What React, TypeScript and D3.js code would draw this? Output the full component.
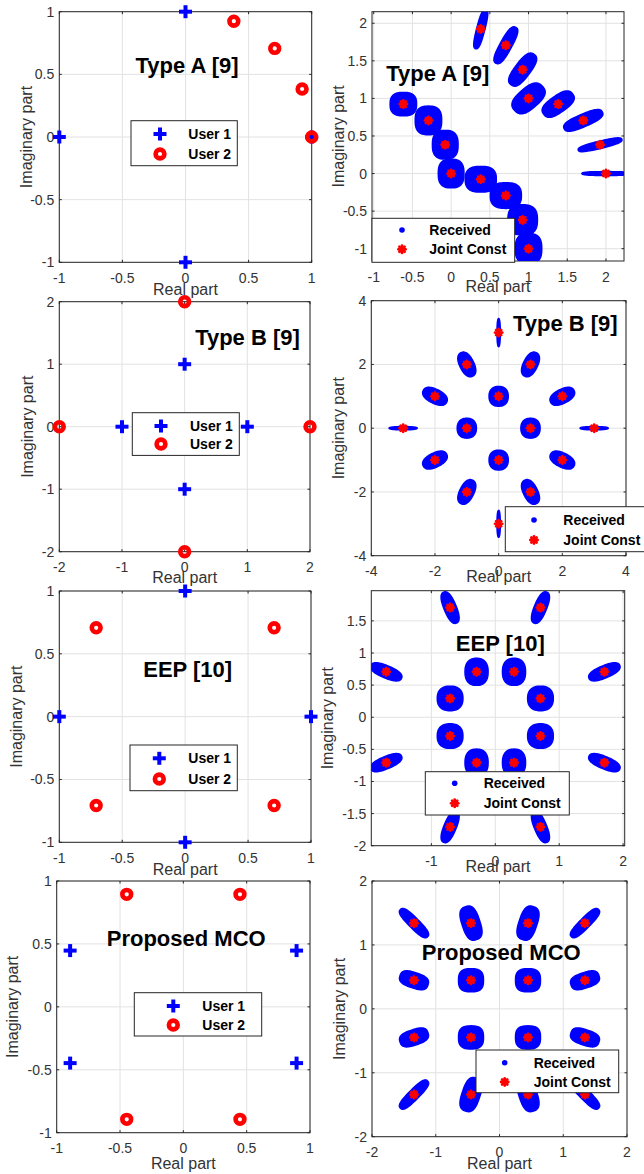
import React from 'react';
import * as d3 from 'd3';

type Pt = [number, number];

// ---------- data ----------
const titles = ['Type A [9]', 'Type B [9]', 'EEP [10]', 'Proposed MCO'];
const userLegend = ['User 1', 'User 2'];
const rxLegend = ['Received', 'Joint Const'];
const xLabel = 'Real part';
const yLabel = 'Imaginary part';

const typeAUser1: Pt[] = [[0, 1], [-1, 0], [0, -1], [1, 0]];
const typeAUser2: Pt[] = [[1, 0], [0.924, 0.383], [0.707, 0.707], [0.383, 0.924]];
const typeBUser1: Pt[] = [[1, 0], [0, 1], [-1, 0], [0, -1]];
const typeBUser2: Pt[] = [[2, 0], [0, 2], [-2, 0], [0, -2]];
const eepUser1: Pt[] = [[1, 0], [0, 1], [-1, 0], [0, -1]];
const eepUser2: Pt[] = [[0.707, 0.707], [-0.707, 0.707], [-0.707, -0.707], [0.707, -0.707]];
const mcoUser1: Pt[] = [[0.894, 0.447], [-0.894, 0.447], [-0.894, -0.447], [0.894, -0.447]];
const mcoUser2: Pt[] = [[0.447, 0.894], [-0.447, 0.894], [-0.447, -0.894], [0.447, -0.894]];

// joint constellation points and spread of received clouds [along, across, angle deg]
const typeAJoint: Pt[] = [[2, 0], [1.924, 0.383], [1.707, 0.707], [1.383, 0.924], [1, 1], [0.924, 1.383], [0.707, 1.707], [0.383, 1.924],
  [0, 0], [-0.076, 0.383], [-0.293, 0.707], [-0.617, 0.924], [1, -1], [0.924, -0.617], [0.707, -0.293], [0.383, -0.076]];
const typeASpread = [[0.31, 0.025, 0], [0.29, 0.048, 14], [0.27, 0.082, 24], [0.23, 0.11, 36], [0.24, 0.135, 42], [0.25, 0.1, 54], [0.27, 0.075, 62], [0.27, 0.052, 76],
  [0.165, 0.19, 0], [0.165, 0.19, 0], [0.17, 0.19, 0], [0.17, 0.155, 0], [0.17, 0.2, 0], [0.19, 0.2, 0], [0.2, 0.17, 0], [0.2, 0.17, 0]];

const typeBJoint: Pt[] = [[3, 0], [-3, 0], [0, 3], [0, -3], [1, 0], [-1, 0], [0, 1], [0, -1],
  [1, 2], [-1, 2], [1, -2], [-1, -2], [2, 1], [-2, 1], [2, -1], [-2, -1]];
const typeBSpread = [[0.44, 0.05, 0], [0.44, 0.05, 0], [0.44, 0.05, 90], [0.42, 0.05, 90], [0.31, 0.3, 90], [0.31, 0.3, 90], [0.31, 0.3, 90], [0.31, 0.3, 90],
  [0.41, 0.22, 63.4], [0.41, 0.22, 116.6], [0.41, 0.22, -63.4], [0.41, 0.22, -116.6], [0.41, 0.22, 26.6], [0.41, 0.22, 153.4], [0.41, 0.22, -26.6], [0.41, 0.22, -153.4]];

const eepJoint: Pt[] = [[0.707, 1.707], [-0.707, 1.707], [0.707, -1.707], [-0.707, -1.707], [1.707, 0.707], [-1.707, 0.707], [1.707, -0.707], [-1.707, -0.707],
  [0.293, 0.707], [-0.293, 0.707], [0.293, -0.707], [-0.293, -0.707], [0.707, 0.293], [-0.707, 0.293], [0.707, -0.293], [-0.707, -0.293]];
const eepSpread = [[0.26, 0.095, 67.5], [0.26, 0.095, 112.5], [0.26, 0.095, -67.5], [0.26, 0.095, -112.5], [0.26, 0.095, 22.5], [0.26, 0.095, 157.5], [0.26, 0.095, -22.5], [0.26, 0.095, -157.5],
  [0.21, 0.18, 90], [0.21, 0.18, 90], [0.21, 0.18, 90], [0.21, 0.18, 90], [0.2, 0.19, 0], [0.2, 0.19, 0], [0.2, 0.19, 0], [0.2, 0.19, 0]];

const mcoJoint: Pt[] = [[1.341, 1.341], [-1.341, 1.341], [1.341, -1.341], [-1.341, -1.341], [0.447, 1.341], [-0.447, 1.341], [0.447, -1.341], [-0.447, -1.341],
  [1.341, 0.447], [-1.341, 0.447], [1.341, -0.447], [-1.341, -0.447], [0.447, 0.447], [-0.447, 0.447], [0.447, -0.447], [-0.447, -0.447]];
const mcoSpread = [[0.3, 0.08, 45], [0.3, 0.08, 135], [0.3, 0.08, -45], [0.3, 0.08, -135], [0.27, 0.14, 71.6], [0.27, 0.14, 108.4], [0.27, 0.14, -71.6], [0.27, 0.14, -108.4],
  [0.23, 0.12, 18.4], [0.23, 0.12, 161.6], [0.23, 0.12, -18.4], [0.23, 0.12, -161.6], [0.195, 0.18, 0], [0.195, 0.18, 0], [0.195, 0.18, 0], [0.195, 0.18, 0]];

const ticksUnit = [-1, -0.5, 0, 0.5, 1];
const ticksTwo = [-2, -1, 0, 1, 2];
const ticksFour = [-4, -2, 0, 2, 4];
const ticksTypeA = [-1, -0.5, 0, 0.5, 1, 1.5, 2];
const ticksEepX = [-1, 0, 1, 2];
const ticksEepY = [-2, -1.5, -1, -0.5, 0, 0.5, 1, 1.5];

// ---------- layout ----------
const FONT = '"Liberation Sans", Arial, Helvetica, sans-serif';
const AX = '#262626';
const GRID = '#e2e2e2';
const BLUE = '#0000ff';
const RED = '#ff0000';

interface Panel {
  id: string;
  kind: 'users' | 'rx';
  box: { l: number; r: number; t: number; b: number };
  xDom: [number, number]; yDom: [number, number];
  xTicks: number[]; yTicks: number[];
  xLabDy: number; yLabX: number;
  title: { text: string; x: number; y: number };
  leg: { l: number; t: number; w: number; h: number; mx: number; tx: number; r1: number; r2: number };
  u1?: Pt[]; u2?: Pt[];
  joint?: Pt[]; spread?: number[][]; n?: number;
}

const panels: Panel[] = [
  { id: 'p1', kind: 'users', box: { l: 59.3, r: 311.7, t: 11.7, b: 262.3 }, xDom: [-1, 1], yDom: [-1, 1], xTicks: ticksUnit, yTicks: ticksUnit,
    xLabDy: 32.5, yLabX: 27.5, title: { text: titles[0], x: 187, y: 73 },
    leg: { l: 131, t: 120.7, w: 106.3, h: 45, mx: 29, tx: 57.3, r1: 13.3, r2: 33.3 }, u1: typeAUser1, u2: typeAUser2 },
  { id: 'p2', kind: 'rx', box: { l: 372, r: 624, t: 11.7, b: 261 }, xDom: [-1.022, 2.233], yDom: [-1.164, 2.154], xTicks: ticksTypeA, yTicks: ticksTypeA,
    xLabDy: 31, yLabX: 340.3, title: { text: titles[0], x: 437.8, y: 80.7 },
    leg: { l: 372, t: 218.3, w: 142.7, h: 44, mx: 30, tx: 57.3, r1: 11.7, r2: 31 }, joint: typeAJoint, spread: typeASpread, n: 2.7 },
  { id: 'p3', kind: 'users', box: { l: 59.3, r: 310, t: 301.7, b: 551.7 }, xDom: [-2, 2], yDom: [-2, 2], xTicks: ticksTwo, yTicks: ticksTwo,
    xLabDy: 31.5, yLabX: 29, title: { text: titles[1], x: 247.5, y: 345.3 },
    leg: { l: 132.3, t: 412.7, w: 107, h: 42.7, mx: 28.7, tx: 57.7, r1: 13.3, r2: 31.3 }, u1: typeBUser1, u2: typeBUser2 },
  { id: 'p4', kind: 'rx', box: { l: 371.3, r: 626, t: 300.7, b: 555.7 }, xDom: [-4, 4], yDom: [-4, 4], xTicks: ticksFour, yTicks: ticksFour,
    xLabDy: 26, yLabX: 340.3, title: { text: titles[1], x: 565.3, y: 331 },
    leg: { l: 505.3, t: 506.7, w: 142.7, h: 45, mx: 28.7, tx: 58, r1: 13.3, r2: 33.3 }, joint: typeBJoint, spread: typeBSpread, n: 2.3 },
  { id: 'p5', kind: 'users', box: { l: 59.3, r: 311, t: 591, b: 842.3 }, xDom: [-1, 1], yDom: [-1, 1], xTicks: ticksUnit, yTicks: ticksUnit,
    xLabDy: 32.5, yLabX: 17.5, title: { text: titles[2], x: 187.7, y: 677.3 },
    leg: { l: 130, t: 745, w: 107.3, h: 45.7, mx: 29.3, tx: 58.3, r1: 13.3, r2: 34 }, u1: eepUser1, u2: eepUser2 },
  { id: 'p6', kind: 'rx', box: { l: 371.3, r: 624.7, t: 590.7, b: 845.7 }, xDom: [-1.94, 2.025], yDom: [-2, 1.97], xTicks: ticksEepX, yTicks: ticksEepY,
    xLabDy: 26, yLabX: 329.2, title: { text: titles[2], x: 500.3, y: 651 },
    leg: { l: 425.3, t: 771.7, w: 144, h: 43.3, mx: 29.4, tx: 58.4, r1: 11.6, r2: 31.6 }, joint: eepJoint, spread: eepSpread, n: 2.4 },
  { id: 'p7', kind: 'users', box: { l: 56.7, r: 310, t: 881, b: 1132.7 }, xDom: [-1, 1], yDom: [-1, 1], xTicks: ticksUnit, yTicks: ticksUnit,
    xLabDy: 36, yLabX: 14, title: { text: titles[3], x: 186.2, y: 946 },
    leg: { l: 134.3, t: 992.7, w: 127.4, h: 43.3, mx: 39, tx: 68, r1: 13.3, r2: 32.3 }, u1: mcoUser1, u2: mcoUser2 },
  { id: 'p8', kind: 'rx', box: { l: 372, r: 627, t: 881, b: 1136.7 }, xDom: [-2, 2], yDom: [-2, 2], xTicks: ticksTwo, yTicks: ticksTwo,
    xLabDy: 32, yLabX: 340.7, title: { text: titles[3], x: 501.2, y: 960 },
    leg: { l: 476, t: 1050, w: 142.7, h: 42.7, mx: 28.7, tx: 57.7, r1: 12.7, r2: 32 }, joint: mcoJoint, spread: mcoSpread, n: 2.8 },
];

function cloudPath(c: Pt, s: number[], n: number, x: d3.ScaleLinear<number, number>, y: d3.ScaleLinear<number, number>) {
  const [a, b, deg] = s;
  const th = (deg * Math.PI) / 180;
  const pts: [number, number][] = d3.range(72).map((i) => {
    const t = (i / 72) * 2 * Math.PI;
    const ct = Math.cos(t), st = Math.sin(t);
    const u = Math.sign(ct) * Math.pow(Math.abs(ct), 2 / n);
    const v = Math.sign(st) * Math.pow(Math.abs(st), 2 / n);
    const dx = a * u * Math.cos(th) - b * v * Math.sin(th);
    const dy = a * u * Math.sin(th) + b * v * Math.cos(th);
    return [x(c[0] + dx), y(c[1] + dy)];
  });
  return d3.line().curve(d3.curveLinearClosed)(pts) || '';
}

const Plus = ({ x, y }: { x: number; y: number }) => (
  <g stroke={BLUE} strokeWidth={4}>
    <line x1={x - 6.5} x2={x + 6.5} y1={y} y2={y} />
    <line x1={x} x2={x} y1={y - 6.5} y2={y + 6.5} />
  </g>
);
const Ring = ({ x, y }: { x: number; y: number }) => (
  <circle cx={x} cy={y} r={4.4} fill="none" stroke={RED} strokeWidth={4.6} />
);
const Star = ({ x, y }: { x: number; y: number }) => (
  <g stroke={RED} strokeWidth={2.8} strokeLinecap="round">
    {[0, 45, 90, 135].map((a) => {
      const r = (a * Math.PI) / 180;
      const dx = 3.6 * Math.cos(r), dy = 3.6 * Math.sin(r);
      return <line key={a} x1={x - dx} y1={y - dy} x2={x + dx} y2={y + dy} />;
    })}
  </g>
);

function PanelView({ p }: { p: Panel }) {
  const { box } = p;
  const x = d3.scaleLinear().domain(p.xDom).range([box.l, box.r]);
  const y = d3.scaleLinear().domain(p.yDom).range([box.b, box.t]);
  const tl = 2.5;
  const cx = (box.l + box.r) / 2;
  const cy = (box.t + box.b) / 2;
  const L = p.leg;
  return (
    <g fontFamily={FONT}>
      <defs>
        <clipPath id={`clip-${p.id}`}>
          <rect x={box.l} y={box.t} width={box.r - box.l} height={box.b - box.t} />
        </clipPath>
      </defs>
      <rect x={box.l} y={box.t} width={box.r - box.l} height={box.b - box.t} fill="#fff" />
      {p.xTicks.map((v) => (
        <line key={`gx${v}`} x1={x(v)} x2={x(v)} y1={box.t} y2={box.b} stroke={GRID} strokeWidth={1} />
      ))}
      {p.yTicks.map((v) => (
        <line key={`gy${v}`} y1={y(v)} y2={y(v)} x1={box.l} x2={box.r} stroke={GRID} strokeWidth={1} />
      ))}
      <rect x={box.l} y={box.t} width={box.r - box.l} height={box.b - box.t} fill="none" stroke={AX} strokeWidth={1} />
      {p.xTicks.map((v) => (
        <g key={`tx${v}`}>
          <line x1={x(v)} x2={x(v)} y1={box.b} y2={box.b - tl} stroke={AX} />
          <line x1={x(v)} x2={x(v)} y1={box.t} y2={box.t + tl} stroke={AX} />
          <text x={x(v)} y={box.b + 20.5} textAnchor="middle" fontSize={14} fill="#333">{String(v)}</text>
        </g>
      ))}
      {p.yTicks.map((v) => (
        <g key={`ty${v}`}>
          <line y1={y(v)} y2={y(v)} x1={box.l} x2={box.l + tl} stroke={AX} />
          <line y1={y(v)} y2={y(v)} x1={box.r} x2={box.r - tl} stroke={AX} />
          <text x={box.l - 5} y={y(v) + 5} textAnchor="end" fontSize={14} fill="#333">{String(v)}</text>
        </g>
      ))}
      <text x={cx} y={box.b + p.xLabDy} textAnchor="middle" fontSize={16} fill="#333">{xLabel}</text>
      <text transform={`translate(${p.yLabX + 4},${cy}) rotate(-90)`} textAnchor="middle" fontSize={16} fill="#333">{yLabel}</text>

      {p.kind === 'users' && (
        <g>
          {p.u1!.map((d, i) => <Plus key={`a${i}`} x={x(d[0])} y={y(d[1])} />)}
          {p.u2!.map((d, i) => <Ring key={`b${i}`} x={x(d[0])} y={y(d[1])} />)}
        </g>
      )}
      {p.kind === 'rx' && (
        <g clipPath={`url(#clip-${p.id})`}>
          {p.joint!.map((d, i) => (
            <path key={`c${i}`} d={cloudPath(d, p.spread![i], p.n!, x, y)} fill={BLUE} stroke={BLUE} strokeWidth={1.6} strokeLinejoin="round" />
          ))}
          {p.joint!.map((d, i) => <Star key={`s${i}`} x={x(d[0])} y={y(d[1])} />)}
        </g>
      )}

      <text x={p.title.x} y={p.title.y} textAnchor="middle" fontSize={22} fontWeight="bold" fill="#000">{p.title.text}</text>

      <g>
        <rect x={L.l} y={L.t} width={L.w} height={L.h} fill="#fff" stroke={AX} strokeWidth={1} />
        {p.kind === 'users' ? (
          <>
            <Plus x={L.l + L.mx} y={L.t + L.r1} />
            <Ring x={L.l + L.mx} y={L.t + L.r2} />
            <text x={L.l + L.tx} y={L.t + L.r1 + 5} fontSize={14} fontWeight="bold" fill="#000">{userLegend[0]}</text>
            <text x={L.l + L.tx} y={L.t + L.r2 + 5} fontSize={14} fontWeight="bold" fill="#000">{userLegend[1]}</text>
          </>
        ) : (
          <>
            <circle cx={L.l + L.mx} cy={L.t + L.r1} r={2.8} fill={BLUE} />
            <Star x={L.l + L.mx} y={L.t + L.r2} />
            <text x={L.l + L.tx} y={L.t + L.r1 + 5} fontSize={14} fontWeight="bold" fill="#000">{rxLegend[0]}</text>
            <text x={L.l + L.tx} y={L.t + L.r2 + 5} fontSize={14} fontWeight="bold" fill="#000">{rxLegend[1]}</text>
          </>
        )}
      </g>
    </g>
  );
}

export default function App() {
  return (
    <svg width={644} height={1174} style={{ position: 'absolute', left: 0, top: 0, background: '#fff' }}>
      <rect x={0} y={0} width={644} height={1174} fill="#fff" />
      {panels.map((p) => <PanelView key={p.id} p={p} />)}
    </svg>
  );
}
